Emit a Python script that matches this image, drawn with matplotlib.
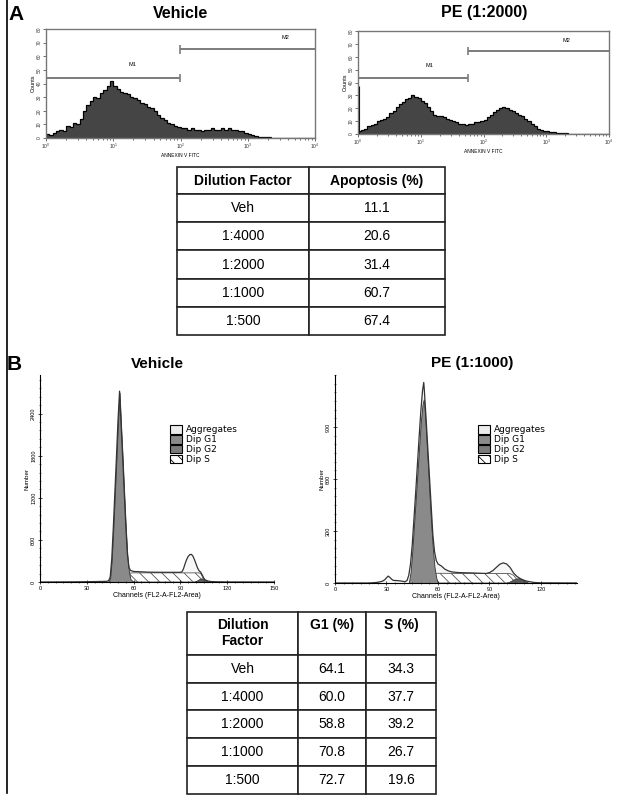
import matplotlib
matplotlib.use("Agg")
import matplotlib.pyplot as plt
import numpy as np
from matplotlib.lines import Line2D
from matplotlib.patches import Patch
from matplotlib.ticker import MultipleLocator, LogLocator, NullFormatter

plt.rcParams["font.family"] = ["Liberation Sans", "DejaVu Sans"]
plt.rcParams["hatch.linewidth"] = 0.6

W, H = 622, 801

# ---- panel A: Annexin V FITC histograms, counts per 0.05-decade bin (10^0 .. 10^4)
annexin_decades = np.arange(0, 4.0001, 0.05)
veh_counts = [3, 2, 4, 5, 6, 5, 9, 8, 11, 10,
              14, 20, 24, 27, 30, 29, 33, 35, 38, 42,
              38, 36, 34, 33, 32, 30, 29, 28, 26, 25,
              23, 22, 20, 17, 15, 13, 11, 10, 9, 8,
              7, 7, 6, 7, 6, 6, 5, 6, 6, 7,
              6, 6, 7, 6, 7, 6, 6, 5, 5, 4,
              3, 2, 1.5, 1, 1, 0.5, 0.5, 0.3, 0.2, 0.2,
              0.2, 0.2, 0.2, 0.2, 0.2, 0.2, 0.2, 0.2, 0.2, 0.2]
pe2000_counts = [2, 3, 4, 6, 7, 8, 10, 11, 12, 13,
                 16, 18, 21, 23, 25, 27, 28, 30, 29, 28,
                 26, 24, 21, 18, 15, 14, 14, 13, 12, 11,
                 10, 9, 8, 8, 7, 8, 8, 9, 9, 10,
                 11, 13, 15, 17, 19, 20, 21, 20, 19, 18,
                 16, 15, 14, 12, 10, 8, 6, 4, 3, 2.5,
                 2, 1.5, 1.3, 1, 0.8, 0.6, 0.4, 0.2, 0.2, 0.2,
                 0.2, 0.2, 0.2, 0.2, 0.2, 0.2, 0.2, 0.2, 0.2, 0.2]
pe2000_first_channel = 37

veh_m1 = [1, 98]
veh_m2 = [98, 10000]
pe2000_m1 = [1, 56]
pe2000_m2 = [56, 10000]

apop_dilution = ["Veh", "1:4000", "1:2000", "1:1000", "1:500"]
apop_pct = ["11.1", "20.6", "31.4", "60.7", "67.4"]

# ---- panel B: DNA content (FL2-A) histograms
veh_ch = [0, 20, 30, 40, 43, 44, 45, 46, 47, 48, 49, 50, 51, 52, 53, 54, 55, 56, 57, 58,
          60, 65, 70, 80, 88, 90, 91, 92, 93, 94, 95, 96, 97, 98, 99, 100, 101, 102, 103,
          104, 105, 106, 108, 110, 114, 120, 150]
veh_num = [0, 2, 4, 8, 10, 20, 70, 330, 780, 1280, 1780, 2300, 2720, 2240, 1780, 1280, 800, 400, 210, 165,
           150, 145, 140, 138, 138, 138, 145, 190, 260, 320, 365, 390, 394, 370, 320, 260, 200, 160, 140,
           100, 55, 28, 12, 6, 3, 1, 0]
veh_g1_ch = [43, 44, 45, 46, 47, 48, 49, 50, 51, 52, 53, 54, 55, 56, 57, 58, 60]
veh_g1 = [0, 10, 60, 320, 760, 1260, 1760, 2280, 2700, 2220, 1760, 1260, 780, 380, 150, 40, 0]
veh_s_ch = [48, 50, 52, 54, 56, 58, 60, 80, 100, 102, 103, 104, 105, 106]
veh_s = [0, 10, 40, 80, 115, 128, 130, 130, 130, 130, 120, 80, 30, 0]
veh_g2_ch = [98, 100, 102, 103, 104, 105, 106, 108, 110]
veh_g2 = [0, 15, 40, 50, 50, 40, 25, 8, 0]

pe1000_ch = [0, 20, 24, 26, 28, 29, 30, 31, 32, 33, 34, 36, 38, 40, 41, 42, 43, 44, 45, 46,
             47, 48, 49, 50, 51, 51.7, 52, 53, 54, 55, 56, 57, 58, 59, 60, 62, 64, 66, 68,
             72, 80, 88, 90, 92, 94, 96, 98, 100, 102, 104, 106, 108, 110, 112, 116, 120, 141]
pe1000_num = [0, 0, 3, 6, 12, 19, 30, 40, 32, 22, 15, 14, 12, 9, 8, 15, 45, 110, 220, 370,
              520, 680, 840, 990, 1110, 1157, 1120, 960, 790, 620, 450, 280, 180, 130, 110, 98, 80, 70, 64,
              60, 58, 55, 60, 72, 90, 108, 116, 110, 90, 58, 38, 25, 16, 10, 3, 1, 0]
pe1000_g1_ch = [43, 44, 45, 46, 47, 48, 49, 50, 51, 51.7, 52, 53, 54, 55, 56, 57, 58, 59, 60]
pe1000_g1 = [0, 60, 180, 330, 480, 630, 780, 930, 1030, 1060, 1040, 880, 700, 520, 350, 200, 90, 30, 0]
pe1000_s_ch = [47, 49, 51, 53, 55, 57, 59, 60, 80, 100, 102, 104, 106, 108]
pe1000_s = [0, 10, 25, 38, 48, 54, 56, 56, 55, 55, 54, 45, 20, 0]
pe1000_g2_ch = [100, 103, 105, 107, 109, 111, 113]
pe1000_g2 = [0, 15, 25, 28, 22, 10, 0]

cc_dilution = ["Veh", "1:4000", "1:2000", "1:1000", "1:500"]
cc_g1 = ["64.1", "60.0", "58.8", "70.8", "72.7"]
cc_s = ["34.3", "37.7", "39.2", "26.7", "19.6"]

fig = plt.figure(figsize=(W / 100, H / 100), dpi=100)


def px_axes(x0, y0, x1, y1):
    return fig.add_axes([x0 / W, 1 - y1 / H, (x1 - x0) / W, (y1 - y0) / H])


def fig_text(x, y, s, **kw):
    fig.text(x / W, 1 - y / H, s, ha="center", va="center", **kw)


def annexin_panel(ax, counts, m1, m2, m1_y, m2_y, m1_lab, m2_lab, first=None):
    edges = 10 ** annexin_decades
    ax.stairs(counts, edges, fill=True, color="#454545")
    ax.stairs(counts, edges, color="black", lw=0.9)
    if first is not None:
        ax.vlines(1.03, 0, first, color="black", lw=0.8)
    grey = "#7c7c7c"
    ax.hlines(m1_y, m1[0], m1[1], color=grey, lw=1.4)
    ax.vlines(m1[1], m1_y - 3, m1_y + 3, color=grey, lw=1.2)
    ax.hlines(m2_y, m2[0], m2[1], color=grey, lw=1.4)
    ax.vlines(m2[0], m2_y - 3, m2_y + 3, color=grey, lw=1.2)
    ax.text(m1_lab[0], m1_lab[1], "M1", fontsize=4, ha="center", va="center")
    ax.text(m2_lab[0], m2_lab[1], "M2", fontsize=4, ha="center", va="center")
    ax.set_xscale("log")
    ax.set_xlim(1, 1e4)
    ax.set_ylim(0, 80)
    ax.yaxis.set_major_locator(MultipleLocator(10))
    ax.xaxis.set_major_locator(LogLocator(base=10, numticks=6))
    ax.xaxis.set_minor_locator(LogLocator(base=10, subs=np.arange(2, 10), numticks=20))
    ax.xaxis.set_minor_formatter(NullFormatter())
    ax.tick_params(labelsize=3.5, length=2, width=0.5, pad=1, colors="#333333")
    ax.tick_params(axis="y", labelrotation=90)
    ax.tick_params(which="minor", length=1.2, width=0.4)
    for lab in ax.get_yticklabels():
        lab.set_va("center")
    for sp in ax.spines.values():
        sp.set_color("#777777")
        sp.set_linewidth(1.0)
    ax.set_ylabel("Counts", fontsize=4, labelpad=1)
    ax.set_xlabel("ANNEXIN V FITC", fontsize=3.5, labelpad=1)


ax1 = px_axes(46, 29, 315, 138)
annexin_panel(ax1, veh_counts, veh_m1, veh_m2, 44, 65, (10 ** 1.28, 54), (10 ** 3.56, 73.5))
ax2 = px_axes(358, 31, 609, 134)
annexin_panel(ax2, pe2000_counts, pe2000_m1, pe2000_m2, 43.5, 64.5, (10 ** 1.14, 53.5), (10 ** 3.32, 72.5),
              first=pe2000_first_channel)

fig_text(181, 13, "Vehicle", fontsize=11.5, fontweight="bold")
fig_text(484, 13, "PE (1:2000)", fontsize=11.5, fontweight="bold")
fig.text(8 / W, 1 - 14.5 / H, "A", ha="left", va="center", fontsize=15, fontweight="bold")


def make_table(ax, header, rows, col_widths, header_h, row_h, fs):
    ax.axis("off")
    tab = ax.table(cellText=rows, colLabels=header, cellLoc="center", colWidths=col_widths,
                   bbox=[0, 0, 1, 1])
    tab.auto_set_font_size(False)
    tab.set_fontsize(fs)
    for (r, c), cell in tab.get_celld().items():
        cell.set_linewidth(1.2)
        cell.set_edgecolor("#222222")
        cell.set_height(header_h if r == 0 else row_h)
        if r == 0:
            cell.get_text().set_fontweight("bold")
    return tab


tax1 = px_axes(177, 167, 445, 335)
make_table(tax1, ["Dilution Factor", "Apoptosis (%)"],
           [[d, v] for d, v in zip(apop_dilution, apop_pct)], [132, 136], 27, 28, 10)


def cycle_panel(ax, ch, num, g1_ch, g1, s_ch, s, g2_ch, g2, xmax, ymax, ystep, yminor):
    ax.fill_between(ch, num, color="#f7f7f7", lw=0)
    ax.fill_between(s_ch, s, facecolor="white", edgecolor="#555555", hatch="\\\\\\", lw=0.6)
    ax.fill_between(g1_ch, g1, facecolor="#8a8a8a", edgecolor="#333333", lw=0.6)
    ax.fill_between(g2_ch, g2, facecolor="#5a5a5a", edgecolor="#333333", lw=0.5)
    ax.plot(ch, num, color="#333333", lw=0.9)
    ax.set_xlim(0, xmax)
    ax.set_ylim(0, ymax)
    for side in ["top", "right"]:
        ax.spines[side].set_visible(False)
    for side in ["left", "bottom"]:
        ax.spines[side].set_linewidth(0.8)
    ax.xaxis.set_major_locator(MultipleLocator(30))
    ax.xaxis.set_minor_locator(MultipleLocator(5))
    ax.set_yticks(np.arange(0, ymax, ystep))
    ax.yaxis.set_minor_locator(MultipleLocator(yminor))
    ax.tick_params(direction="inout", labelsize=4, length=3.5, width=0.5, pad=1)
    ax.tick_params(which="minor", direction="inout", length=2, width=0.4)
    ax.tick_params(axis="y", labelrotation=90)
    for lab in ax.get_yticklabels():
        lab.set_va("center")
    ax.set_ylabel("Number", fontsize=4.5, labelpad=1)
    ax.set_xlabel("Channels (FL2-A-FL2-Area)", fontsize=5, labelpad=1)


def cycle_legend(ax, x, y):
    handles = [Patch(facecolor="#ececec", edgecolor="black", lw=0.8, label="Aggregates"),
               Patch(facecolor="#8a8a8a", edgecolor="black", lw=0.8, label="Dip G1"),
               Patch(facecolor="#7a7a7a", edgecolor="black", lw=0.8, label="Dip G2"),
               Patch(facecolor="white", edgecolor="black", lw=0.8, hatch="\\\\\\", label="Dip S")]
    ax.legend(handles=handles, loc="upper left", bbox_to_anchor=(x / W, 1 - y / H),
              bbox_transform=fig.transFigure, frameon=False, handlelength=1.3,
              handleheight=1.1, labelspacing=0.05, handletextpad=0.5, borderpad=0, borderaxespad=0,
              prop={"family": "DejaVu Sans", "size": 6.5})


bx1 = px_axes(40, 375, 274, 582)
cycle_panel(bx1, veh_ch, veh_num, veh_g1_ch, veh_g1, veh_s_ch, veh_s, veh_g2_ch, veh_g2,
            150, 2950, 600, 120)
cycle_legend(bx1, 170, 425)
bx2 = px_axes(335, 375, 577, 583)
cycle_panel(bx2, pe1000_ch, pe1000_num, pe1000_g1_ch, pe1000_g1, pe1000_s_ch, pe1000_s,
            pe1000_g2_ch, pe1000_g2, 141, 1200, 300, 50)
cycle_legend(bx2, 478, 425)

fig_text(157, 363.5, "Vehicle", fontsize=11, fontweight="bold")
fig_text(472, 363.5, "PE (1:1000)", fontsize=11, fontweight="bold")
fig.text(7 / W, 1 - 365 / H, "B", ha="left", va="center", fontsize=15, fontweight="bold")

tax2 = px_axes(187, 612, 436, 794)
make_table(tax2, ["Dilution\nFactor", "G1 (%)\n ", "S (%)\n "],
           [list(r) for r in zip(cc_dilution, cc_g1, cc_s)], [111, 68, 70], 43, 28, 10)

fig.add_artist(Line2D([7 / W, 7 / W], [1, 1 - 793 / H], color="black", lw=1.2))

fig.savefig("out.png", dpi=100)
